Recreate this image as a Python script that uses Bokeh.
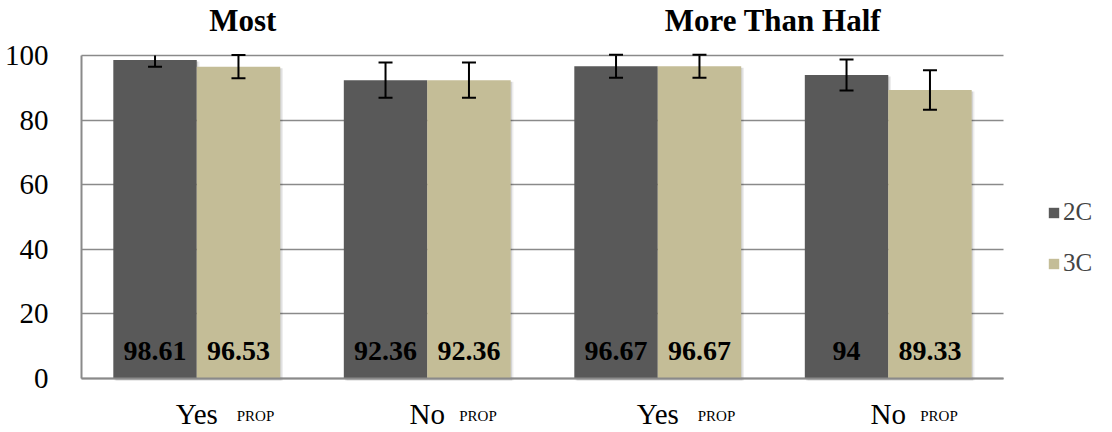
import numpy as np
from bokeh.plotting import figure
from bokeh.models import ColumnDataSource, Label, Legend, LegendItem, FixedTicker, Range1d
from bokeh.core.properties import value
from bokeh.embed import file_html
from bokeh.resources import INLINE

# ---- data ----
categories = ["Yes", "No", "Yes", "No"]
sub_label = "PROP"
panel_titles = ["Most", "More Than Half"]
series_names = ["2C", "3C"]
values_2c = [98.61, 92.36, 96.67, 94]
values_3c = [96.53, 92.36, 96.67, 89.33]
err_2c = [2.1, 5.45, 3.55, 4.8]
err_3c = [3.6, 5.45, 3.55, 6.1]
y_ticks = [0, 20, 40, 60, 80, 100]
y_max = 100

FONT = "Liberation Serif"
COLORS = ["#595959", "#C4BD97"]
GRID = "#8a8a8a"

# ---- geometry (pixels) ----
W, H = 1112, 432
PLOT_LEFT, PLOT_W = 81, 922      # px from figure left
PLOT_BOTTOM, PLOT_H = 378, 323   # px from figure top
n = len(categories)
px_x = PLOT_W / n
px_y = PLOT_H / y_max
x_range = Range1d(-PLOT_LEFT / px_x, (W - PLOT_LEFT) / px_x)
y_range = Range1d(-(H - PLOT_BOTTOM) / px_y, PLOT_BOTTOM / px_y)

xc = np.arange(n) + 0.5
BAR_W = 0.362
OFFS = [-0.181, 0.181]

p = figure(width=W, height=H, min_border=0,
           x_range=x_range, y_range=y_range,
           output_backend="svg", toolbar_location=None)
p.outline_line_color = None
p.background_fill_color = "white"
p.border_fill_color = "white"

# axes (fixed inside the frame)
p.yaxis.fixed_location = 0
p.yaxis.bounds = (0, y_max)
p.yaxis.ticker = FixedTicker(ticks=y_ticks)
p.yaxis.major_label_text_font = FONT
p.yaxis.major_label_text_font_size = "29px"
p.yaxis.major_label_text_color = "black"
p.yaxis.major_label_standoff = 27
p.yaxis.major_tick_line_color = None
p.yaxis.minor_tick_line_color = None
p.yaxis.axis_line_color = GRID
p.yaxis.axis_line_width = 2

p.xaxis.fixed_location = 0
p.xaxis.bounds = (0, n)
p.xaxis.ticker = FixedTicker(ticks=list(xc))
p.xaxis.major_label_overrides = {float(x): c for x, c in zip(xc, categories)}
p.xaxis.major_label_text_font = FONT
p.xaxis.major_label_text_font_size = "29px"
p.xaxis.major_label_text_color = "black"
p.xaxis.major_label_standoff = 13
p.xaxis.major_tick_line_color = None
p.xaxis.minor_tick_line_color = None
p.xaxis.axis_line_color = GRID
p.xaxis.axis_line_width = 2

p.xgrid.grid_line_color = None
p.ygrid.grid_line_color = GRID
p.ygrid.grid_line_width = 1.5
p.ygrid.cross_bounds = (0, n)

all_vals = [values_2c, values_3c]
all_errs = [err_2c, err_3c]
renderers = []
for i in range(2):
    xs = xc + OFFS[i]
    vals = np.array(all_vals[i], dtype=float)
    for k, a in [(0.006, 0.10), (0.012, 0.07)]:
        p.vbar(x=xs + k, top=vals - 0.5, bottom=-0.6, width=BAR_W,
               fill_color="black", fill_alpha=a, line_color=None)
for i in range(2):
    xs = xc + OFFS[i]
    vals = np.array(all_vals[i], dtype=float)
    src = ColumnDataSource(dict(x=xs, top=vals))
    r = p.vbar(x="x", top="top", bottom=0, width=BAR_W, source=src,
               fill_color=COLORS[i], line_color=None)
    renderers.append(r)
for i in range(2):
    xs = xc + OFFS[i]
    vals = np.array(all_vals[i], dtype=float)
    errs = np.array(all_errs[i], dtype=float)
    lo = vals - errs
    hi = vals + errs
    # the plot area is clipped at y_max: error bars run to the edge
    p.segment(x0=xs, y0=lo, x1=xs, y1=np.minimum(hi, y_max), line_color="black", line_width=2)
    keep = hi <= y_max + 0.5
    cap_x = np.concatenate([xs, xs[keep]])
    cap_y = np.concatenate([lo, hi[keep]])
    p.scatter(x=cap_x, y=cap_y, marker="dash", size=14, line_color="black", line_width=2)
    txt = ["{:g}".format(v) for v in vals]
    p.text(x=xs, y=[0] * n, y_offset=-28, text=txt, text_align="center",
           text_baseline="alphabetic",
           text_font=value(FONT), text_font_size="28px", text_font_style="bold",
           text_color="black")

# PROP sub labels
prop_offset = {"Yes": 40, "No": 32}
for x, c in zip(xc, categories):
    p.add_layout(Label(x=x, y=0, x_offset=prop_offset[c], y_offset=-37, text=sub_label,
                       text_font=FONT, text_font_size="15px", text_align="left",
                       text_baseline="alphabetic", text_color="black"))

# panel titles
title_x = [0.70, 3.0]
for tx, t in zip(title_x, panel_titles):
    p.add_layout(Label(x=tx, y=y_max, y_offset=35, text=t, text_font=FONT,
                       text_font_size="31px", text_font_style="bold", text_align="center",
                       text_baseline="alphabetic", text_color="black"))

legend = Legend(items=[LegendItem(label=s, renderers=[r]) for s, r in zip(series_names, renderers)],
                location=(1047, 155), orientation="vertical",
                glyph_width=13, glyph_height=13,
                label_text_font=FONT, label_text_font_size="25px",
                label_standoff=3, spacing=23, padding=0, margin=0,
                border_line_alpha=0, background_fill_alpha=0)
p.add_layout(legend)

open("out.html", "w").write(file_html(p, INLINE))
